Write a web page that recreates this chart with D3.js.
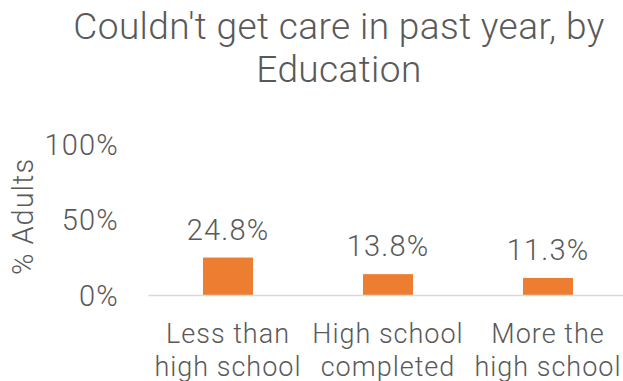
<!DOCTYPE html>
<html>
<head>
<meta charset="utf-8">
<script src="https://cdn.jsdelivr.net/npm/d3@7"></script>
<style>
  html, body { margin: 0; padding: 0; background: #fff; }
  svg text { font-family: Roboto, "Liberation Sans", sans-serif; font-weight: 300; fill: #595959; }
</style>
</head>
<body>
<svg id="chart" width="623" height="381"></svg>
<script>
// Share of adults who couldn't get care in the past year, by education level
const categories = [["Less than", "high school"], ["High school", "completed"], ["More the", "high school"]];
const values = [24.8, 13.8, 11.3];
const yTicks = [0, 50, 100];
const titleLines = ["Couldn't get care in past year, by", "Education"];
const yLabel = "% Adults";

const svg = d3.select("#chart");
const W = 623, H = 381;
const margin = { left: 148, right: -5, top: 144, bottom: 86 };
const labelSize = "29px";
const labelSpacing = "1.2px";

const x = d3.scaleBand()
  .domain(d3.range(values.length))
  .range([margin.left, W - margin.right])
  .paddingInner(0.6875)
  .paddingOuter(0.34375);

const y = d3.scaleLinear()
  .domain([0, 100])
  .range([H - margin.bottom, margin.top]);

// Title
svg.append("g").selectAll("text")
  .data(titleLines)
  .join("text")
  .attr("x", 339)
  .attr("y", (d, i) => 39 + i * 43)
  .attr("text-anchor", "middle")
  .style("font-size", "37px")
  .style("letter-spacing", "0.4px")
  .text(d => d);

// Y axis tick labels (no line)
const yAxis = d3.axisLeft(y).tickValues(yTicks).tickFormat(d => d + "%").tickSize(0).tickPadding(0);
const yg = svg.append("g").attr("transform", `translate(119,0)`).call(yAxis);
yg.select(".domain").remove();
yg.selectAll("text")
  .style("font-size", labelSize)
  .style("letter-spacing", labelSpacing)
  .attr("dy", "0.35em")
  .attr("fill", null);

// Y axis title
svg.append("text")
  .attr("transform", `translate(33,216.5) rotate(-90)`)
  .attr("text-anchor", "middle")
  .style("font-size", labelSize)
  .style("letter-spacing", "1px")
  .text(yLabel);

// Bars
svg.append("g").selectAll("rect")
  .data(values)
  .join("rect")
  .attr("x", (d, i) => x(i))
  .attr("width", x.bandwidth())
  .attr("y", d => y(d))
  .attr("height", d => y(0) - y(d))
  .attr("fill", "#ED7D31");

// Value labels
svg.append("g").selectAll("text")
  .data(values)
  .join("text")
  .attr("x", (d, i) => x(i) + x.bandwidth() / 2)
  .attr("y", d => y(d) - 18)
  .attr("text-anchor", "middle")
  .style("font-size", labelSize)
  .style("letter-spacing", labelSpacing)
  .text(d => d.toFixed(1) + "%");

// Baseline
const xAxis = d3.axisBottom(x).tickSize(0).tickFormat("");
const xg = svg.append("g").attr("transform", `translate(0,${y(0)})`).call(xAxis);
xg.select(".domain").attr("stroke", "#d9d9d9").attr("stroke-width", 1.5);

// Category labels, two lines each
const cat = svg.append("g").selectAll("text")
  .data(categories)
  .join("text")
  .attr("text-anchor", "middle")
  .attr("x", (d, i) => x(i) + x.bandwidth() / 2)
  .attr("y", 343)
  .style("font-size", "27px")
  .style("letter-spacing", "1px");
cat.selectAll("tspan")
  .data(d => d)
  .join("tspan")
  .attr("x", function () { return this.parentNode.getAttribute("x"); })
  .attr("dy", (d, i) => i === 0 ? 0 : 33)
  .text(d => d);
</script>
</body>
</html>
